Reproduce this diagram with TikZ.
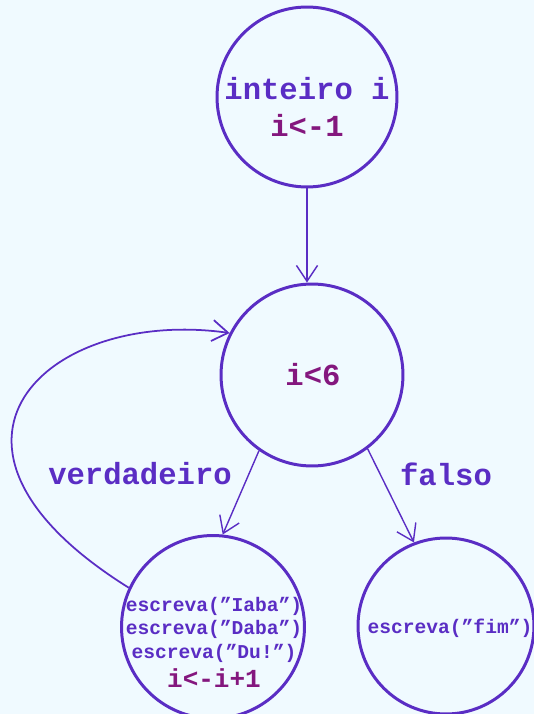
\documentclass[tikz,border=0pt]{standalone}
\usepackage{fontspec}
\setmonofont{Liberation Mono}
\usetikzlibrary{arrows.meta}
\definecolor{roxo}{HTML}{5A2DC4}
\definecolor{vinho}{HTML}{84177E}
\definecolor{fundo}{HTML}{F0FAFF}

\begin{document}
\begin{tikzpicture}[x=.02cm, y=.02cm,
    estado/.style={circle, draw=roxo, line width=1.7pt, minimum size=3.62cm, inner sep=0pt},
    grande/.style={text=roxo, font=\ttfamily\bfseries\fontsize{17.4}{21}\selectfont, align=center},
    miudo/.style={text=roxo, font=\ttfamily\bfseries\fontsize{11.15}{13.4}\selectfont, align=center},
    seta/.style={draw=roxo, line width=.8pt, -{Straight Barb[length=9pt, width=12pt]}}]
  % fundo
  \fill[fundo] (0,0) rectangle (534,714);
  \useasboundingbox (0,0) rectangle (534,714);
  % estados
  \node[estado, minimum size=3.6cm] (inicio) at (307,617) {};
  \node[estado, minimum size=3.64cm] (cond) at (312,339) {};
  \node[estado, minimum size=3.66cm] (laco) at (213,87) {};
  \node[estado, minimum size=3.52cm] (fim) at (446,88) {};
  % textos
  \node[grande] (inicioTxt) at (307,607) {inteiro i\\\textcolor{vinho}{i<-1}};
  \node[grande, text=vinho] (condTxt) at (313,339) {i<6};
  \node[miudo] (lacoTxt) at (214,72) {escreva(”Iaba”)\\escreva(”Daba”)\\escreva(”Du!”)\\[3pt]
    {\fontsize{14.8}{16}\selectfont\textcolor{vinho}{i<-i+1}}};
  \node[miudo] (fimTxt) at (450,86) {escreva(”fim”)};
  \node[grande] (sim) at (140,240) {verdadeiro};
  \node[grande] (nao) at (446,240) {falso};
  % ligacoes
  \draw[seta] (inicio.south) -- (inicio.south |- cond.north);
  \draw[seta] (cond.235) -- (laco.84);
  \draw[seta] (cond.307) -- (fim.111);
  \draw[seta, line width=1pt] (laco.155) to[out=148, in=172, out distance=5.4cm, in distance=3.7cm] (cond.153);
\end{tikzpicture}
\end{document}
